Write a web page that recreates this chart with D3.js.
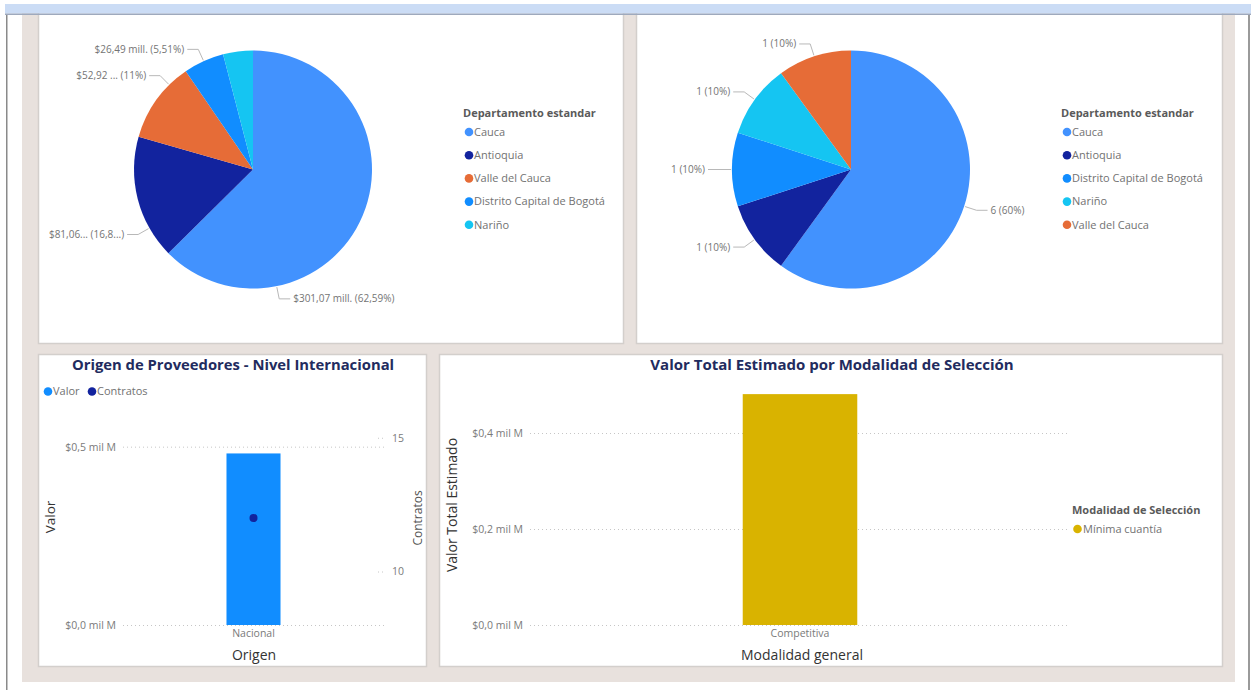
<!DOCTYPE html>
<html><head><meta charset="utf-8">
<script src="https://cdn.jsdelivr.net/npm/d3@7"></script>
<style>
body{margin:0;background:#fff;}
svg{display:block;font-family:"Segoe UI","Open Sans",sans-serif;}
</style>
</head><body>
<svg id="c" width="1251" height="690"></svg>
<script>
// ---------------- DATA ----------------
const departamentos = ["Cauca", "Antioquia", "Valle del Cauca", "Distrito Capital de Bogotá", "Nariño"];
const valorMill = [301.07, 81.06, 52.92, 26.49, 19.47];
const valorLabels = ["$301,07 mill. (62,59%)", "$81,06... (16,8...)", "$52,92 ... (11%)", "$26,49 mill. (5,51%)", ""];
const departamentosContratos = ["Cauca", "Antioquia", "Distrito Capital de Bogotá", "Nariño", "Valle del Cauca"];
const contratosDept = [6, 1, 1, 1, 1];
const contratosLabels = ["6 (60%)", "1 (10%)", "1 (10%)", "1 (10%)", "1 (10%)"];
const origenCats = ["Nacional"];
const origenValor = [0.481];      // mil M
const origenContratos = [12];
const valorTicks = [0, 0.5];
const contratosTicks = [10, 15];
const modalidadCats = ["Competitiva"];
const modalidadValor = [0.481];   // mil M
const modalidadSeries = ["Mínima cuantía"];
const modalidadTicks = [0, 0.2, 0.4];

// ---------------- STYLE ----------------
const deptColor = d3.scaleOrdinal()
  .domain(["Cauca", "Antioquia", "Valle del Cauca", "Distrito Capital de Bogotá", "Nariño"])
  .range(["#4292fe", "#12239e", "#e66c37", "#118dff", "#15c5f2"]);
const barBlue = "#118dff", dotNavy = "#12239e", gold = "#d9b300";
const titleColor = "#222b5e", tickColor = "#7a7a7a", axisTitleColor = "#333", legendColor = "#727272";

const svg = d3.select("#c");

// ---------------- FRAME ----------------
svg.append("rect").attr("x", 22).attr("y", 0).attr("width", 1213).attr("height", 682).attr("fill", "#e8e1dd");
const panels = [
  {x: 38, y: 0, w: 585, h: 343},
  {x: 636, y: 0, w: 586, h: 343},
  {x: 38, y: 354, w: 388, h: 312},
  {x: 439, y: 354, w: 783, h: 312}
];
svg.selectAll("rect.panel").data(panels).join("rect").attr("class", "panel")
  .attr("x", d => d.x + 0.5).attr("y", d => d.y + 0.5).attr("width", d => d.w).attr("height", d => d.h)
  .attr("fill", "#fff").attr("stroke", "#d3cfcc").attr("stroke-width", 1.5);

// ---------------- PIES ----------------
function drawPie(cx, cy, r, cats, vals, labels, anchorFrac, legendX) {
  const g = svg.append("g");
  const pie = d3.pie().sort(null).value(d => d.v);
  const arcs = pie(cats.map((c, i) => ({c, v: vals[i], l: labels[i]})));
  const arc = d3.arc().innerRadius(0).outerRadius(r);
  g.selectAll("path").data(arcs).join("path")
    .attr("transform", `translate(${cx},${cy})`)
    .attr("d", arc).attr("fill", d => deptColor(d.data.c));
  arcs.forEach(d => {
    if (!d.data.l) return;
    const f = anchorFrac && anchorFrac[d.data.c] !== undefined ? anchorFrac[d.data.c] : 0.5;
    const a = d.startAngle + f * (d.endAngle - d.startAngle);
    const s = Math.sin(a), c = Math.cos(a);
    const p0 = [cx + (r + 1) * s, cy - (r + 1) * c];
    const p1 = [cx + (r + 13) * s, cy - (r + 13) * c];
    const dir = s >= 0 ? 1 : -1;
    const p2 = [p1[0] + dir * 11, p1[1]];
    g.append("polyline").attr("points", [p0, p1, p2].map(p => p.join(",")).join(" "))
      .attr("fill", "none").attr("stroke", "#b8b8b8").attr("stroke-width", 1);
    g.append("text").attr("x", p2[0] + dir * 3).attr("y", p2[1]).attr("dy", "0.35em")
      .attr("text-anchor", dir > 0 ? "start" : "end")
      .attr("font-size", 10).attr("fill", "#747474").text(d.data.l);
  });
  // legend
  const lg = svg.append("g");
  lg.append("text").attr("x", legendX).attr("y", 113).attr("dy", "0.35em")
    .attr("font-size", 11).attr("font-weight", 700).attr("fill", "#5a5a5a").text("Departamento estandar");
  cats.forEach((cName, i) => {
    const y = 132 + i * 23.2;
    lg.append("circle").attr("cx", legendX + 6).attr("cy", y).attr("r", 4.3).attr("fill", deptColor(cName));
    lg.append("text").attr("x", legendX + 11).attr("y", y).attr("dy", "0.35em")
      .attr("font-size", 11).attr("fill", legendColor).text(cName);
  });
}
drawPie(253, 169.5, 119, departamentos, valorMill, valorLabels,
  {"Cauca": 0.748, "Antioquia": 0.25, "Valle del Cauca": 0.74, "Distrito Capital de Bogotá": 0.5}, 463);
drawPie(851, 169.5, 119, departamentosContratos, contratosDept, contratosLabels, null, 1061);

// ---------------- helpers ----------------
const fmtMil = d => "$" + d.toFixed(1).replace(".", ",") + " mil M";
function styleAxis(g) {
  g.select(".domain").remove();
  g.selectAll(".tick line").attr("stroke", "#c6c6c6").attr("stroke-dasharray", "1,3");
  g.selectAll(".tick text").attr("fill", tickColor).attr("font-size", 10.5)
    .attr("font-family", "'Segoe UI','Open Sans',sans-serif");
}

// ---------------- BOTTOM LEFT ----------------
{
  const L = {x0: 123, x1: 384, y0: 411, y1: 625};
  const x = d3.scaleBand().domain(origenCats).range([L.x0, L.x1]).padding(0.657);
  const yL = d3.scaleLinear().domain([0, 0.6]).range([L.y1, L.y0]);
  const yR = d3.scaleLinear().domain([8, 16]).range([L.y1, L.y0]);
  svg.append("text").attr("x", 233).attr("y", 365).attr("dy", "0.35em").attr("text-anchor", "middle")
    .attr("font-size", 14.8).attr("font-weight", 700).attr("fill", titleColor)
    .text("Origen de Proveedores - Nivel Internacional");
  // legend
  [["Valor", barBlue, 48], ["Contratos", dotNavy, 92]].forEach(([t, col, lx]) => {
    svg.append("circle").attr("cx", lx).attr("cy", 391.5).attr("r", 4.3).attr("fill", col);
    svg.append("text").attr("x", lx + 5).attr("y", 391.5).attr("dy", "0.35em")
      .attr("font-size", 11).attr("fill", legendColor).text(t);
  });
  svg.append("g").attr("transform", `translate(${L.x0},0)`)
    .call(d3.axisLeft(yL).tickValues(valorTicks).tickSize(-(L.x1 - L.x0)).tickPadding(7).tickFormat(fmtMil))
    .call(styleAxis);
  svg.append("g").attr("transform", `translate(378,0)`)
    .call(d3.axisRight(yR).tickValues(contratosTicks).tickSize(8).tickPadding(6))
    .call(styleAxis);
  svg.append("g").selectAll("rect").data(origenCats).join("rect")
    .attr("x", d => x(d)).attr("width", x.bandwidth())
    .attr("y", (d, i) => yL(origenValor[i])).attr("height", (d, i) => yL(0) - yL(origenValor[i]))
    .attr("fill", barBlue);
  svg.append("g").selectAll("circle").data(origenCats).join("circle")
    .attr("cx", d => x(d) + x.bandwidth() / 2).attr("cy", (d, i) => yR(origenContratos[i]))
    .attr("r", 4).attr("fill", dotNavy);
  svg.append("g").attr("transform", `translate(0,${L.y1})`)
    .call(d3.axisBottom(x).tickSize(0).tickPadding(5))
    .call(styleAxis);
  svg.append("text").attr("x", 254).attr("y", 655).attr("dy", "0.35em").attr("text-anchor", "middle")
    .attr("font-size", 14).attr("fill", axisTitleColor).text("Origen");
  svg.append("text").attr("transform", "translate(50,517) rotate(-90)").attr("dy", "0.35em")
    .attr("text-anchor", "middle").attr("font-size", 13.5).attr("fill", axisTitleColor).text("Valor");
  svg.append("text").attr("transform", "translate(418,518) rotate(-90)").attr("dy", "0.35em")
    .attr("text-anchor", "middle").attr("font-size", 12).attr("fill", "#555").text("Contratos");
}

// ---------------- BOTTOM RIGHT ----------------
{
  const R = {x0: 530, x1: 1070, y0: 385, y1: 625};
  const x = d3.scaleBand().domain(modalidadCats).range([R.x0, R.x1]).padding(0.65);
  const y = d3.scaleLinear().domain([0, 0.5]).range([R.y1, R.y0]);
  svg.append("text").attr("x", 832).attr("y", 365).attr("dy", "0.35em").attr("text-anchor", "middle")
    .attr("font-size", 15).attr("font-weight", 700).attr("fill", titleColor)
    .text("Valor Total Estimado por Modalidad de Selección");
  svg.append("g").attr("transform", `translate(${R.x0},0)`)
    .call(d3.axisLeft(y).tickValues(modalidadTicks).tickSize(-(R.x1 - R.x0)).tickPadding(7).tickFormat(fmtMil))
    .call(styleAxis);
  svg.append("g").selectAll("rect").data(modalidadCats).join("rect")
    .attr("x", d => x(d)).attr("width", x.bandwidth())
    .attr("y", (d, i) => y(modalidadValor[i])).attr("height", (d, i) => y(0) - y(modalidadValor[i]))
    .attr("fill", gold);
  svg.append("g").attr("transform", `translate(0,${R.y1})`)
    .call(d3.axisBottom(x).tickSize(0).tickPadding(5))
    .call(styleAxis);
  svg.append("text").attr("x", 802).attr("y", 655).attr("dy", "0.35em").attr("text-anchor", "middle")
    .attr("font-size", 14).attr("fill", axisTitleColor).text("Modalidad general");
  svg.append("text").attr("transform", "translate(452,505) rotate(-90)").attr("dy", "0.35em")
    .attr("text-anchor", "middle").attr("font-size", 14).attr("fill", axisTitleColor).text("Valor Total Estimado");
  svg.append("text").attr("x", 1072).attr("y", 510.5).attr("dy", "0.35em")
    .attr("font-size", 11).attr("font-weight", 700).attr("fill", "#5a5a5a").text("Modalidad de Selección");
  modalidadSeries.forEach((s, i) => {
    const yy = 529 + i * 20;
    svg.append("circle").attr("cx", 1077.5).attr("cy", yy).attr("r", 4.3).attr("fill", gold);
    svg.append("text").attr("x", 1083).attr("y", yy).attr("dy", "0.35em")
      .attr("font-size", 11).attr("fill", legendColor).text(s);
  });
}

// ---------------- TOP BAND & EDGES ----------------
svg.append("rect").attr("x", 0).attr("y", 0).attr("width", 1251).attr("height", 4).attr("fill", "#fff");
svg.append("rect").attr("x", 5).attr("y", 4).attr("width", 1246).attr("height", 9.5).attr("fill", "#cbdcf5");
svg.append("rect").attr("x", 5).attr("y", 13.5).attr("width", 1246).attr("height", 1.5).attr("fill", "#9ea9bd");
svg.append("rect").attr("x", 6).attr("y", 15).attr("width", 1.5).attr("height", 675).attr("fill", "#8a8a8a");
svg.append("rect").attr("x", 1248).attr("y", 15).attr("width", 2).attr("height", 675).attr("fill", "#9a9a9a");
</script>
</body></html>
